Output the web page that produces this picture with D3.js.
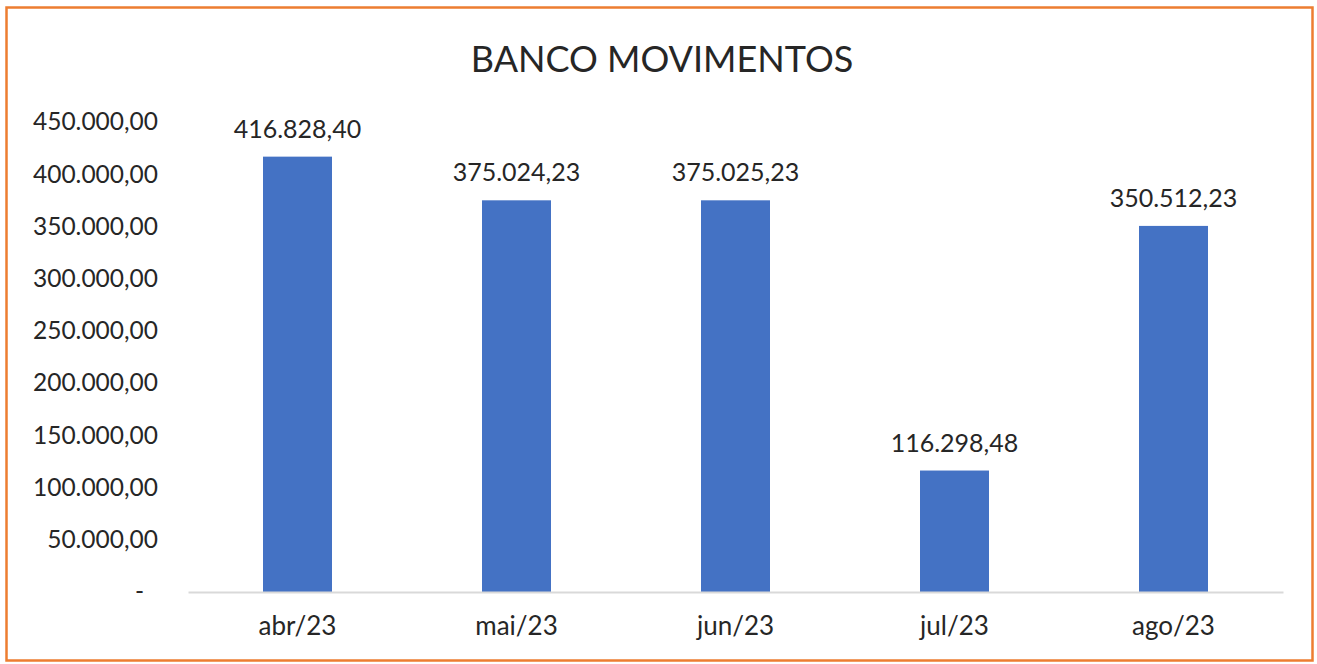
<!DOCTYPE html>
<html><head><meta charset="utf-8">
<script src="https://cdn.jsdelivr.net/npm/d3@7"></script>
<style>body{margin:0;background:#fff;}svg{display:block;}text{font-family:Lato, "Open Sans", sans-serif;fill:#262626;}</style>
</head><body><svg id="c" width="1317" height="664"></svg>
<script>
const categories = ["abr/23","mai/23","jun/23","jul/23","ago/23"];
const values = [416828.40, 375024.23, 375025.23, 116298.48, 350512.23];
const yTicks = [0,50000,100000,150000,200000,250000,300000,350000,400000,450000];
const title = "BANCO MOVIMENTOS";

const svg = d3.select("#c");
svg.append("rect").attr("x",6.5).attr("y",7.5).attr("width",1306).attr("height",653)
  .attr("fill","#fff").attr("stroke","#ED7D31").attr("stroke-width",2.5);

const x = d3.scaleBand().domain(categories).range([188,1283]).paddingInner(0.685).paddingOuter(0.3425);
const y = d3.scaleLinear().domain([0,450000]).range([592,122]);

const fmt = v => v===0 ? "-" : d3.formatLocale({decimal:",",thousands:".",grouping:[3],currency:["",""]}).format(",.2f")(v);

svg.append("text").attr("x",662).attr("y",72).attr("text-anchor","middle").attr("font-size",36).text(title);

const yAxis = svg.append("g").attr("transform","translate(158,0)")
  .call(d3.axisLeft(y).tickValues(yTicks).tickSize(0).tickPadding(0).tickFormat(fmt));
yAxis.select(".domain").remove();
yAxis.selectAll("text").attr("font-size",24.5).attr("fill","#262626").style("font-family","Lato")
  .attr("dx", d => d===0 ? -14 : 0);

svg.append("g").selectAll("rect").data(values).join("rect")
  .attr("x",(d,i)=>x(categories[i])).attr("width",x.bandwidth())
  .attr("y",d=>y(d)).attr("height",d=>y(0)-y(d)).attr("fill","#4472C4");

const xAxis = svg.append("g").attr("transform","translate(0,592)")
  .call(d3.axisBottom(x).tickSize(0).tickPadding(25));
xAxis.select(".domain").attr("stroke","#D9D9D9").attr("stroke-width",2);
xAxis.selectAll("text").attr("font-size",26).attr("fill","#262626").style("font-family","Lato");

svg.append("g").selectAll("text").data(values).join("text")
  .attr("x",(d,i)=>x(categories[i])+x.bandwidth()/2).attr("y",d=>y(d)-19)
  .attr("text-anchor","middle").attr("font-size",25).text(d=>fmt(d));
</script></body></html>
